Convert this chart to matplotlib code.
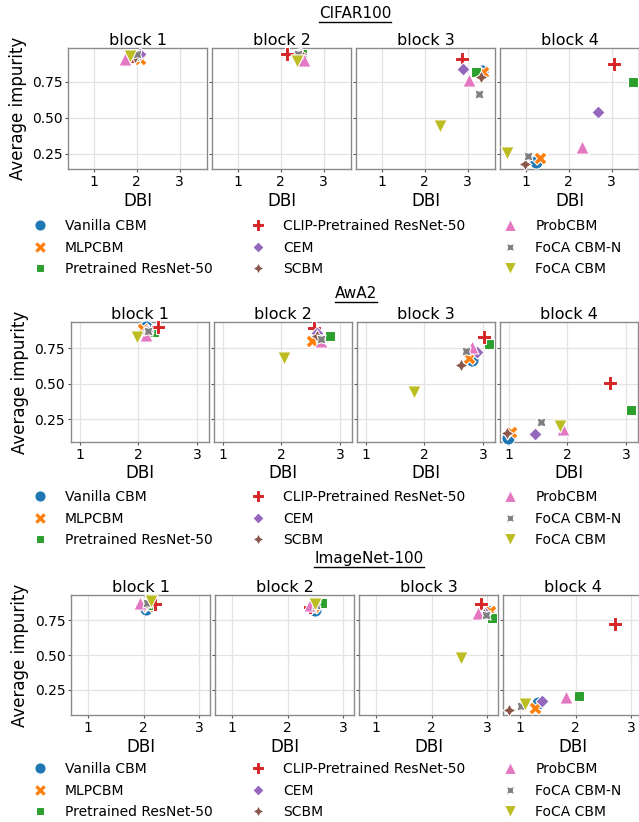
import matplotlib
matplotlib.use("Agg")
import matplotlib.pyplot as plt
from matplotlib.lines import Line2D
import numpy as np

# ---------------- data ----------------
methods = ["Vanilla CBM", "MLPCBM", "Pretrained ResNet-50",
           "CLIP-Pretrained ResNet-50", "CEM", "SCBM",
           "ProbCBM", "FoCA CBM-N", "FoCA CBM"]
colors = ["#1f77b4", "#ff7f0e", "#2ca02c", "#d62728", "#9467bd",
          "#8c564b", "#e377c2", "#7f7f7f", "#bcbd22"]
markers = ["o", "X", (4, 0, 45), "P", (4, 0, 0), (4, 1, 0), "^", (4, 1, 45), "v"]
blocks = ["block 1", "block 2", "block 3", "block 4"]
datasets = ["CIFAR100", "AwA2", "ImageNet-100"]
x_ticks = [1, 2, 3]
y_ticks = [0.25, 0.50, 0.75]

# rows: methods (same order as `methods`), columns: block 1..4
cifar_dbi = [
    [2.00, 2.42, 3.33, 1.24],
    [2.08, 2.45, 3.36, 1.33],
    [1.95, 2.50, 3.19, 3.50],
    [1.90, 2.15, 2.86, 3.05],
    [2.07, 2.40, 2.89, 2.69],
    [1.95, 2.47, 3.30, 0.98],
    [1.73, 2.53, 3.04, 2.30],
    [2.01, 2.40, 3.27, 1.06],
    [1.84, 2.37, 2.35, 0.56],
]
cifar_imp = [
    [0.930, 0.935, 0.825, 0.197],
    [0.905, 0.930, 0.820, 0.220],
    [0.930, 0.940, 0.820, 0.750],
    [0.930, 0.940, 0.905, 0.870],
    [0.940, 0.930, 0.840, 0.543],
    [0.920, 0.945, 0.785, 0.180],
    [0.910, 0.900, 0.760, 0.300],
    [0.940, 0.940, 0.665, 0.237],
    [0.930, 0.895, 0.444, 0.255],
]
awa_dbi = [
    [2.12, 2.62, 2.81, 0.99],
    [2.08, 2.53, 2.76, 1.04],
    [2.26, 2.83, 3.10, 3.09],
    [2.34, 2.56, 3.02, 2.72],
    [2.15, 2.61, 2.90, 1.45],
    [2.14, 2.60, 2.63, 0.96],
    [2.13, 2.67, 2.81, 1.93],
    [2.16, 2.67, 2.71, 1.55],
    [1.97, 2.05, 1.82, 1.88],
]
awa_imp = [
    [0.900, 0.820, 0.668, 0.120],
    [0.885, 0.800, 0.680, 0.163],
    [0.867, 0.837, 0.778, 0.315],
    [0.898, 0.890, 0.827, 0.508],
    [0.870, 0.855, 0.726, 0.144],
    [0.860, 0.840, 0.632, 0.151],
    [0.843, 0.800, 0.760, 0.180],
    [0.874, 0.815, 0.730, 0.229],
    [0.827, 0.680, 0.444, 0.203],
]
imnet_dbi = [
    [2.04, 2.49, 2.99, 1.32],
    [2.07, 2.45, 3.04, 1.27],
    [2.08, 2.61, 3.08, 2.06],
    [2.20, 2.40, 2.88, 2.70],
    [2.02, 2.45, 2.95, 1.39],
    [2.00, 2.47, 2.93, 0.80],
    [1.93, 2.40, 2.83, 1.83],
    [2.05, 2.50, 2.98, 1.01],
    [2.12, 2.49, 2.52, 1.08],
]
imnet_imp = [
    [0.826, 0.820, 0.816, 0.160],
    [0.850, 0.840, 0.816, 0.124],
    [0.860, 0.870, 0.766, 0.207],
    [0.864, 0.845, 0.862, 0.720],
    [0.860, 0.850, 0.800, 0.174],
    [0.850, 0.850, 0.790, 0.107],
    [0.870, 0.860, 0.798, 0.203],
    [0.874, 0.860, 0.786, 0.136],
    [0.888, 0.864, 0.476, 0.148],
]

dbi_all = [cifar_dbi, awa_dbi, imnet_dbi]
imp_all = [cifar_imp, awa_imp, imnet_imp]

# ---------------- layout (pixels) ----------------
W, H = 639, 822
row_left = [68.3, 70.7, 71.0]
row_top = [48.3, 322.3, 595.0]
row_bot = [169.3, 442.0, 715.3]
row_w = [139.0, 138.5, 139.0]
row_step = [144.0, 143.0, 144.0]
row_xlim = [(0.41, 3.64), (0.84, 3.21), (0.69, 3.19)]
row_ylim = [(0.144, 0.981), (0.090, 0.933), (0.069, 0.929)]
title_xy = [(355, 13), (356, 293), (369, 558)]
legend_xy = [(20.5, 213.5), (20.5, 484.5), (20.5, 756.5)]

S = 90
lw = 0.08 * np.sqrt(S)

fig = plt.figure(figsize=(W / 100, H / 100), dpi=100)
fig.patch.set_facecolor("white")

title_texts = []
for r in range(3):
    dbi = dbi_all[r]
    imp = imp_all[r]
    for b in range(4):
        left = (row_left[r] + b * row_step[r]) / W
        bottom = 1 - row_bot[r] / H
        height = (row_bot[r] - row_top[r]) / H
        ax = fig.add_axes([left, bottom, row_w[r] / W, height])
        ax.set_axisbelow(True)
        ax.grid(True, color="#e3e3e3", linewidth=0.9)
        for sp in ax.spines.values():
            sp.set_color("#8a8a8a")
            sp.set_linewidth(1.0)
        for m in range(len(methods)):
            ax.scatter([dbi[m][b]], [imp[m][b]], s=S, marker=markers[m],
                       c=colors[m], edgecolors="white", linewidths=lw,
                       zorder=3, clip_on=False)
        ax.set_xlim(*row_xlim[r])
        ax.set_ylim(*row_ylim[r])
        ax.set_xticks(x_ticks)
        ax.set_yticks(y_ticks)
        ax.tick_params(length=2, width=0.8, color="#555555", pad=2,
                       labelsize=10)
        if b == 0:
            ax.set_yticklabels([f"{v:.2f}" for v in y_ticks])
            ax.set_ylabel("Average impurity", fontsize=12)
        else:
            ax.set_yticklabels([])
        ax.set_xlabel("DBI", fontsize=12, labelpad=2)
        ax.set_title(blocks[b], fontsize=11.5, pad=2)

    tx, ty = title_xy[r]
    t = fig.text(tx / W, 1 - ty / H, datasets[r], ha="center", va="center",
                 fontsize=11)
    title_texts.append(t)

    handles = [Line2D([], [], linestyle="none", marker=markers[m],
                      markersize=np.sqrt(S) * 0.85, markerfacecolor=colors[m],
                      markeredgecolor="white", markeredgewidth=lw)
               for m in range(len(methods))]
    lx, ly = legend_xy[r]
    fig.legend(handles, methods, ncol=3, loc="upper left",
               bbox_to_anchor=(lx / W, 1 - ly / H), frameon=False,
               fontsize=10, labelspacing=0.55, columnspacing=2.25,
               handletextpad=0.8, borderaxespad=0.0)

# underline dataset titles
fig.canvas.draw()
renderer = fig.canvas.get_renderer()
inv = fig.transFigure.inverted()
for t in title_texts:
    bb = t.get_window_extent(renderer)
    (x0, y0), (x1, _) = inv.transform([[bb.x0, bb.y0 - 1.5], [bb.x1, bb.y0]])
    fig.add_artist(Line2D([x0, x1], [y0, y0], transform=fig.transFigure,
                          color="black", linewidth=1.0))

fig.savefig("out.png", dpi=100)
